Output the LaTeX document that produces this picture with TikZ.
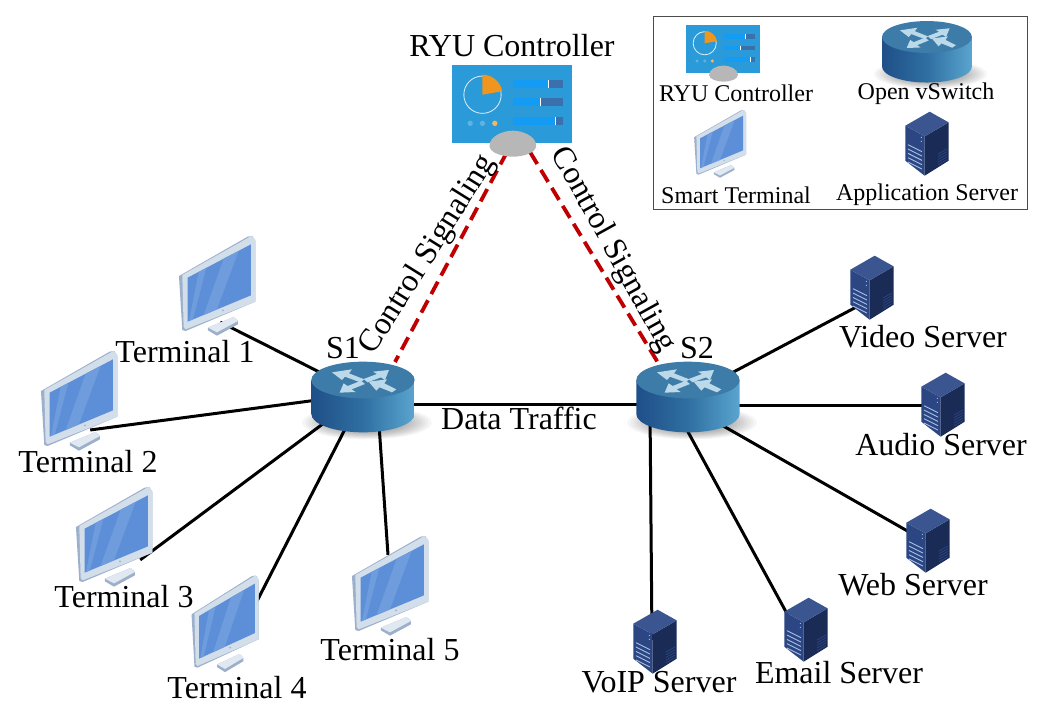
\documentclass[tikz,border=0pt]{standalone}
\usepackage{fontspec}
\setmainfont{Liberation Serif}
\usetikzlibrary{calc}
\definecolor{ctrlblue}{HTML}{2B9AD8}
\definecolor{barblue}{HTML}{149CF5}
\definecolor{bardark}{HTML}{3A70AC}
\definecolor{pieor}{HTML}{F0961E}
\definecolor{mousegr}{HTML}{B7B7B7}
\definecolor{monbody}{HTML}{D3DEEB}
\definecolor{monside}{HTML}{9DB0CB}
\definecolor{monscreen}{HTML}{5C8FD8}
\definecolor{monhi}{HTML}{6E9CDD}
\definecolor{srvtop}{HTML}{3A5590}
\definecolor{srvleft}{HTML}{2C4684}
\definecolor{srvright}{HTML}{1A2B55}
\definecolor{srvslot}{HTML}{A8C0E4}
\definecolor{swtop}{HTML}{3D7CA8}
\definecolor{swl}{HTML}{1F4F88}
\definecolor{swm}{HTML}{2F6FA2}
\definecolor{swr}{HTML}{5AA5CF}
\definecolor{swarrow}{HTML}{BCD9EA}
\definecolor{sigred}{HTML}{C00000}
\tikzset{
  x=1pt,y=-1pt,
  lbl/.style={inner sep=0pt,font=\fontsize{32}{34}\selectfont},
  leglbl/.style={inner sep=0pt,font=\fontsize{24}{26}\selectfont},
  anchorpt/.style={inner sep=0pt,minimum size=0pt},
  link/.style={draw=black,line width=3pt},
  signal/.style={draw=sigred,line width=3.8pt,dash pattern=on 14pt off 7pt},
  legendbox/.style={draw=black!70,line width=1.2pt,fill=white},
  monitor/.pic={
    \begin{scope}[shift={(-46.7,-55)},scale=0.3333]
      \fill[monside] (113,290)--(190,258)--(203,270)--(203,280)--(140,314)--(113,298)--cycle;
      \fill[monbody!70!white] (113,290)--(190,258)--(203,270)--(140,304)--cycle;
      \fill[monside] (26,135)--(232,17)--(246,15)--(255,30)--(255,212)--(46,300)--(36,297)--cycle;
      \fill[monbody] (36,132)--(243,15)--(255,26)--(255,212)--(46,295)--(40,288)--cycle;
      \fill[monscreen] (52,140)--(242,40)--(242,193)--(52,272)--cycle;
      \fill[monhi] (85,123)--(108,111)--(68,265)--(56,270)--cycle;
      \fill[monhi] (160,83)--(205,60)--(140,235)--(100,252)--cycle;
      \fill[monside] (158,238) circle (3);
    \end{scope}
  },
  serverpic/.pic={
    \begin{scope}[shift={(-31.7,-38.3)},scale=0.3333]
      \fill[srvleft] (30,60)--(88,92)--(88,210)--(30,165)--cycle;
      \fill[srvright] (88,92)--(160,50)--(160,165)--(88,210)--cycle;
      \fill[srvtop] (30,60)--(103,18)--(160,50)--(88,92)--cycle;
      \foreach \d in {0,13,26,39,52}{
        \draw[srvslot,line width=0.9pt] (38,{117+\d})--(80,{138+\d});
      }
      \fill[srvslot] (78,95) circle (2) (78,107) circle (2);
      \foreach \d in {0,8,16,24,32}{
        \draw[srvleft,line width=0.7pt] (128,{145+\d})--(155,{130+\d});
      }
    \end{scope}
  },
  shadowpic/.pic={
    \begin{scope}[shift={(-72.7,-40)},scale=0.3333]
      \foreach \r in {1,0.95,0.9,0.85,0.8,0.75,0.7,0.65,0.6,0.55,0.5,0.45}{
        \fill[black,opacity=0.035] (230,248) ellipse ({195*\r} and {50*\r});
      }
    \end{scope}
  },
  switchpic/.pic={
    \begin{scope}[shift={(-72.7,-40)},scale=0.3333]
      \shade[left color=swl,right color=swr,middle color=swm,shading angle=90]
        (63,120) -- (63,222) arc[start angle=180,end angle=0,x radius=155,y radius=55] -- (373,120) -- cycle;
      \fill[swtop] (218,120) ellipse (155 and 55);
      \fill[swarrow] (125,97)--(185,88)--(176,100)--(222,118)--(210,127)--(164,110)--(155,120)--cycle;
      \fill[swarrow] (296,90)--(284,120)--(272,112)--(232,127)--(220,117)--(260,102)--(248,95)--cycle;
      \fill[swarrow] (148,158)--(160,130)--(172,138)--(212,122)--(224,132)--(184,148)--(196,156)--cycle;
      \fill[swarrow] (235,125)--(290,118)--(282,130)--(318,148)--(305,157)--(268,142)--(258,152)--cycle;
    \end{scope}
  },
  controller/.pic={
    \begin{scope}[shift={(-112.5,-84.3)},scale=0.3333]
      \fill[ctrlblue] (158,137) rectangle (517,370);
      \draw[white,line width=0.8pt,opacity=0.85] (249,225) circle (56);
      \fill[pieor] (249,225)--(249,165) arc[start angle=-90,end angle=-10,radius=60]--cycle;
      \foreach \yy/\xx in {193/445,248/421,304/467}{
        \fill[bardark] (340,{\yy-12}) rectangle (491,{\yy+12});
        \fill[barblue] (340,{\yy-12}) rectangle (\xx,{\yy+12});
        \fill[white] (\xx,{\yy-12}) rectangle ({\xx+4},{\yy+12});
      }
      \fill[white,opacity=0.25] (212,311) circle (8) (249,311) circle (8);
      \fill[pieor!70!white] (286,311) circle (8);
      \fill[mousegr] (270,378) .. controls (270,350) and (310,333) .. (340,333) .. controls (370,333) and (410,350) .. (410,378) .. controls (410,400) and (370,411) .. (340,411) .. controls (310,411) and (270,400) .. (270,378) -- cycle;
    \end{scope}
  }
}
\begin{document}
\begin{tikzpicture}
\useasboundingbox (0,0) rectangle (1043,721);
\fill[white] (0,0) rectangle (1043,721);
% anchor nodes
\node[anchorpt] (s1) at (363,394) {};
\node[anchorpt] (s2) at (690,395) {};
\node[anchorpt] (t1) at (220,322) {};
\node[anchorpt] (t2) at (90,430) {};
\node[anchorpt] (t3) at (140,560) {};
\node[anchorpt] (t4) at (255,605) {};
\node[anchorpt] (t5) at (388,555) {};
\node[anchorpt] (video) at (862,304) {};
\node[anchorpt] (audio) at (935,405) {};
\node[anchorpt] (web) at (925,541) {};
\node[anchorpt] (email) at (797,632) {};
\node[anchorpt] (voip) at (652,640) {};
\coordinate (s1low) at (378,410);
\coordinate (s1d) at (400,404);
\coordinate (s2d) at (660,404);
\coordinate (s2a) at (700,405);
\coordinate (s2w) at (690,407);
\coordinate (s2e) at (675,408);
\coordinate (s2v) at (650,410);
% shadows
\pic at (363,380) {shadowpic};
\pic at (688,380) {shadowpic};
% connectors
\draw[link] (t1) -- (s1);
\draw[link] (t2) -- (s1);
\draw[link] (t3) -- (s1);
\draw[link] (t4) -- (s1);
\draw[link] (t5) -- (s1low);
\draw[link] (s1d) -- (s2d);
\draw[link] (s2) -- (video);
\draw[link] (s2a) -- (audio);
\draw[link] (s2w) -- (web);
\draw[link] (s2e) -- (email);
\draw[link] (s2v) -- (voip);
\coordinate (s1top) at (395,362);
\coordinate (s2top) at (660,366);
\coordinate (cl) at (507,152);
\coordinate (cr) at (530,152);
\draw[signal] (cl) -- (s1top);
\draw[signal] (cr) -- (s2top);
% icons
\pic at (363,380) {switchpic};
\pic at (688,380) {switchpic};
\pic at (512,104) {controller};
\pic at (217,286) {monitor};
\pic at (79,401) {monitor};
\pic at (114,537) {monitor};
\pic[xscale=0.88,yscale=0.97] at (225,624) {monitor};
\pic at (390,586) {monitor};
\pic at (872,288) {serverpic};
\pic at (943,405) {serverpic};
\pic at (928,541) {serverpic};
\pic at (806,630) {serverpic};
\pic at (655,642) {serverpic};
% labels
\node[lbl] (lryu) at (512,46) {RYU Controller};
\node[lbl] (ls1) at (343,348) {S1};
\node[lbl] (ls2) at (697,348) {S2};
\node[lbl] (ldata) at (519,418) {Data Traffic};
\node[lbl,rotate=58] (lcl) at (428,255) {Control Signaling};
\node[lbl,rotate=-61] (lcr) at (613,250) {Control Signaling};
\node[lbl] (lt1) at (185,352) {Terminal 1};
\node[lbl] (lt2) at (88,462) {Terminal 2};
\node[lbl] (lt3) at (124,597) {Terminal 3};
\node[lbl] (lt4) at (237,688) {Terminal 4};
\node[lbl] (lt5) at (390,650) {Terminal 5};
\node[lbl] (lvideo) at (923,337) {Video Server};
\node[lbl] (laudio) at (941,445) {Audio Server};
\node[lbl] (lweb) at (913,585) {Web Server};
\node[lbl] (lemail) at (839,673) {Email Server};
\node[lbl] (lvoip) at (659,682) {VoIP Server};
% legend
\node[legendbox,anchor=north west,minimum width=374pt,minimum height=193pt,inner sep=0pt] (legend) at (653,16) {};
\pic[scale=0.62] at (723,49) {controller};
\pic[scale=0.87] at (927,37) {shadowpic};
\pic[scale=0.87] at (927,37) {switchpic};
\pic[scale=0.68] at (720,144) {monitor};
\pic at (927,144) {serverpic};
\node[leglbl] (lg1) at (736,93) {RYU Controller};
\node[leglbl] (lg2) at (926,94) {Open vSwitch};
\node[leglbl] (lg3) at (736,195) {Smart Terminal};
\node[leglbl] (lg4) at (927,195) {Application Server};
\end{tikzpicture}
\end{document}
